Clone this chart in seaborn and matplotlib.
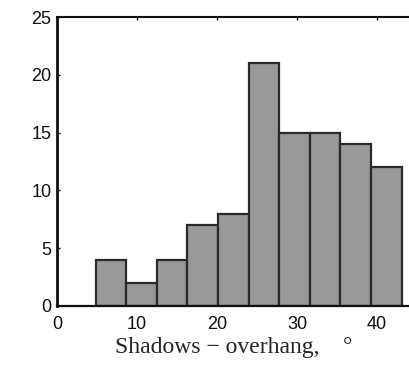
import numpy as np
import pandas as pd
import matplotlib
matplotlib.use("Agg")
import matplotlib.pyplot as plt
import seaborn as sns

# Data (MATLAB-style hist, 10 equal bins)
bin_start = 4.84
bin_stop = 43.08
counts = [4, 2, 4, 7, 8, 21, 15, 15, 14, 12]
xticks = [0, 10, 20, 30, 40]
yticks = [0, 5, 10, 15, 20, 25]
xlabel = "Shadows \u2212 overhang,    \u00b0"

edges = np.linspace(bin_start, bin_stop, len(counts) + 1)
centers = (edges[:-1] + edges[1:]) / 2
df = pd.DataFrame({"angle": centers, "count": counts})

sns.set_style("white")
fig = plt.figure(figsize=(4.1, 3.65), dpi=100)
ax = fig.add_axes([57 / 410, 1 - 306 / 365, 1 - 57 / 410, (306 - 17) / 365])

sns.histplot(data=df, x="angle", weights="count", bins=list(edges), ax=ax,
             color="#999999", alpha=1.0, edgecolor="#2a2a2a", linewidth=1.6)

ax.set_xlim(0, 44.125)
ax.set_ylim(0, 25)
ax.set_xticks(xticks)
ax.set_yticks(yticks)
ax.set_ylabel("")
ax.set_xlabel(xlabel, family="Liberation Serif", fontsize=17, labelpad=3)
for lab in ax.get_xticklabels() + ax.get_yticklabels():
    lab.set_family("Liberation Sans")
    lab.set_fontsize(13)
ax.tick_params(axis="x", pad=7)
ax.tick_params(axis="y", pad=4)
ax.tick_params(direction="in", length=2.5, width=1, top=True, right=False,
               left=True, bottom=True, colors="#111111")
for s in ["left", "bottom", "top"]:
    ax.spines[s].set_visible(True)
    ax.spines[s].set_color("#111111")
ax.spines["left"].set_linewidth(2.0)
ax.spines["bottom"].set_linewidth(1.6)
ax.spines["top"].set_linewidth(1.5)
ax.spines["right"].set_visible(False)

fig.savefig("out.png", dpi=100)
